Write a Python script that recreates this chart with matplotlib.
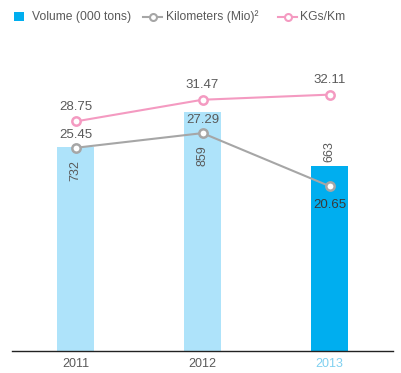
import matplotlib.pyplot as plt
from matplotlib.lines import Line2D
from matplotlib.patches import Rectangle

years = ["2011", "2012", "2013"]
volume = [732, 859, 663]
kilometers = [25.45, 27.29, 20.65]
kgs_per_km = [28.75, 31.47, 32.11]
series_names = ["Volume (000 tons)", "Kilometers (Mio)\u00b2", "KGs/Km"]

bar_light = "#aee3fa"
bar_dark = "#00aeef"
gray_line = "#a6a6a6"
pink_line = "#f49ac1"
text_col = "#5a5a5a"

plt.rcParams['font.family'] = ['Liberation Sans', 'DejaVu Sans']

W, H = 401, 373
fig = plt.figure(figsize=(W / 100, H / 100), dpi=100)
left, right, bottom, top = 12, 393, 351, 50
ax = fig.add_axes([left / W, 1 - bottom / H, (right - left) / W, (bottom - top) / H])
ax2 = ax.twinx()

x = list(range(len(years)))
colors = [bar_light, bar_light, bar_dark]
ax.bar(x, volume, width=0.285, color=colors, zorder=1)
ax.set_xlim(-0.5, 2.5)
ax.set_ylim(0, 1080)

ax2.plot(x, kilometers, color=gray_line, lw=1.5, marker='o', ms=6,
         mfc='white', mec=gray_line, mew=1.8, zorder=3)
ax2.plot(x, kgs_per_km, color=pink_line, lw=1.5, marker='o', ms=6,
         mfc='white', mec=pink_line, mew=1.8, zorder=3)
ax2.set_ylim(0, 37.7)

for a in (ax, ax2):
    for s in ("top", "right", "left"):
        a.spines[s].set_visible(False)
    a.set_yticks([])
ax.spines["bottom"].set_color("#222222")
ax.spines["bottom"].set_linewidth(1.0)
ax2.spines["bottom"].set_visible(False)

ax.set_xticks(x)
ax.set_xticklabels(years, fontsize=9)
ax.tick_params(axis='x', length=0, pad=5)
for lbl, c in zip(ax.get_xticklabels(), [text_col, text_col, "#7fd0f0"]):
    lbl.set_color(c)

# bar values, rotated: under the kilometer marker inside the bar, or above the bar
for i, v in enumerate(volume):
    if i < 2:
        ax2.annotate(str(v), (i, kilometers[i]), xytext=(0, -9), textcoords='offset points',
                     rotation=90, ha='center', va='top', fontsize=9, color=text_col)
    else:
        ax.annotate(str(v), (i, v), xytext=(0, 3), textcoords='offset points',
                    rotation=90, ha='center', va='bottom', fontsize=9, color=text_col)

# line values
for i, v in enumerate(kgs_per_km):
    ax2.annotate(f"{v:.2f}", (i, v), xytext=(0, 6), textcoords='offset points',
                 ha='center', va='bottom', fontsize=9.5, color=text_col)
for i, v in enumerate(kilometers):
    if i < 2:
        ax2.annotate(f"{v:.2f}", (i, v), xytext=(0, 5), textcoords='offset points',
                     ha='center', va='bottom', fontsize=9.5, color=text_col)
    else:
        ax2.annotate(f"{v:.2f}", (i, v), xytext=(0, -9), textcoords='offset points',
                     ha='center', va='top', fontsize=9.5, color="#3a3a3a")

# legend row across the top, laid out in pixel units
def fx(px):
    return px / W


def fy(py):
    return 1 - py / H


ly = 17
fig.add_artist(Rectangle((fx(14), fy(21)), 10 / W, 9 / H, transform=fig.transFigure,
                         facecolor=bar_dark, edgecolor='none'))
for (x0, x1), col in (((143, 162), gray_line), ((278, 297), pink_line)):
    fig.add_artist(Line2D([fx(x0), fx(x1)], [fy(ly), fy(ly)], transform=fig.transFigure,
                          color=col, lw=1.5))
    fig.add_artist(Line2D([fx((x0 + x1) / 2)], [fy(ly)], transform=fig.transFigure,
                          marker='o', ms=5, mfc='white', mec=col, mew=1.5))
for tx, name in zip((32, 166, 300), series_names):
    fig.text(fx(tx), fy(ly), name, ha='left', va='center', fontsize=8.7, color=text_col)

fig.savefig("out.png", dpi=100)
